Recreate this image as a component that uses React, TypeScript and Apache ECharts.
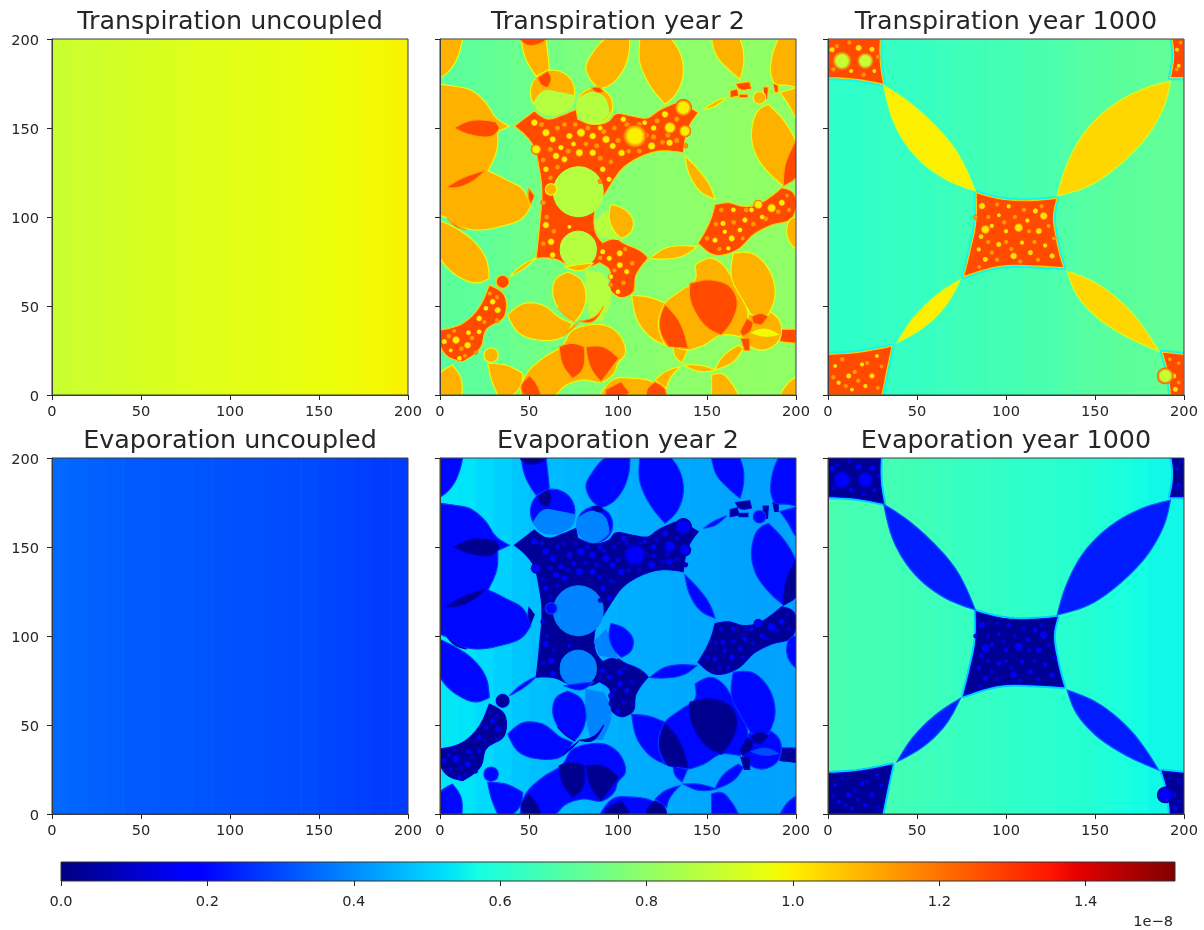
import React, { useEffect, useRef } from "react";
import * as echarts from "echarts";

// ---------- values (data units 0..200, colour values in 1e-8) ----------
const panelTitles = [
  "Transpiration uncoupled", "Transpiration year 2", "Transpiration year 1000",
  "Evaporation uncoupled", "Evaporation year 2", "Evaporation year 1000",
];
const xTickValues = [0, 50, 100, 150, 200];
const colorbarTicks = [0, 0.2, 0.4, 0.6, 0.8, 1.0, 1.2, 1.4];
const colorbarMax = 1.522;
const colorbarBreaks = [0, 0.11, 0.125, 0.34, 0.35, 0.375, 0.5, 0.64, 0.65, 0.66, 0.89, 0.91, 1];

// background value of each 10-unit column
const stripsT0 = [0.905, 0.91, 0.915, 0.92, 0.925, 0.93, 0.935, 0.94, 0.945, 0.948, 0.95, 0.953, 0.955, 0.96, 0.965, 0.97, 0.975, 0.98, 0.985, 0.992];
const stripsT2 = [0.70, 0.705, 0.71, 0.72, 0.73, 0.74, 0.75, 0.76, 0.77, 0.775, 0.78, 0.785, 0.79, 0.79, 0.795, 0.795, 0.80, 0.80, 0.80, 0.80];
const stripsT1000 = [0.62, 0.62, 0.625, 0.63, 0.63, 0.635, 0.64, 0.645, 0.65, 0.655, 0.66, 0.665, 0.67, 0.68, 0.69, 0.695, 0.70, 0.705, 0.71, 0.71];
const stripsE0 = [0.345, 0.34, 0.335, 0.33, 0.325, 0.322, 0.32, 0.318, 0.315, 0.312, 0.31, 0.308, 0.305, 0.302, 0.30, 0.295, 0.29, 0.285, 0.28, 0.28];
const stripsE2 = [0.535, 0.53, 0.515, 0.50, 0.485, 0.475, 0.47, 0.465, 0.46, 0.455, 0.45, 0.447, 0.445, 0.442, 0.44, 0.437, 0.435, 0.432, 0.43, 0.43];
const stripsE1000 = [0.665, 0.66, 0.66, 0.655, 0.65, 0.645, 0.64, 0.635, 0.63, 0.625, 0.62, 0.615, 0.61, 0.605, 0.60, 0.59, 0.58, 0.57, 0.56, 0.56];

// level: [fill value, edge value]
const levelsT2 = { o: [1.10, 0.97], y: [1.10, 0.97], r: [1.265, 1.12], n: [1.265, 1.05], s: [1.0, 1.0], g: [1.14, 1.14], m: [1.12, 1.0], l: [0.87, 0.87], b: [0.98, 0.98] };
const levelsE2 = { o: [0.2, 0.27], y: [0.2, 0.27], r: [0.02, 0.1], n: [0.03, 0.12], s: [0.18, 0.18], g: [0.12, 0.12], m: [0.2, 0.2], l: [0.385, 0.385], b: [0.3, 0.3] };
const levelsT1000 = { o: [1.04, 0.92], y: [1.0, 0.9], n: [1.265, 1.05], s: [1.02, 1.02], g: [1.14, 1.14], m: [0.9, 0.9] };
const levelsE1000 = { o: [0.23, 0.33], y: [0.23, 0.33], n: [0.03, 0.12], s: [0.18, 0.18], g: [0.12, 0.12], m: [0.17, 0.17] };

// Year 2 map
const y2Noise = [
  [[41.8,151],[53,159.6],[61,155],[68,157],[76.4,160.5],[77.4,155],[85.8,152],[95,154],[98.3,157.7],[107.7,156.7],[117,155.8],[122.6,159.6],[128.3,162.4],[133.9,164.2],[140.4,161.4],[145.1,158.6],[140.4,152],[136.7,136.1],[122.6,137],[111.4,133.3],[102,126.8],[97,120],[92,112],[88,106],[86.5,97],[88,90],[91.4,85.6],[99.8,87.4],[102.6,85.6],[114,80],[117,77],[110,67],[108.3,57.5],[101.7,54.7],[96,58.4],[95,70.6],[89.5,74.3],[85.8,72.5],[70,74],[66,76],[54,76.8],[55.8,93.6],[57,119],[55.8,126.8],[52,140.8],[48.3,145.5]],
  [[154.5,107],[162,108],[170,106],[177,106.5],[186.3,111.8],[192,116.5],[198.5,113.7],[200,105],[197.6,99.2],[186.3,95.5],[177,90.8],[166.7,81.4],[154.5,78.6],[145,85.2],[152.6,100]],
  [[0,36.5],[12.7,40.2],[20.2,46.8],[27.7,61.8],[36.1,56.1],[36.1,44],[25.8,36.5],[23,27],[12.7,18.7],[3.4,22.4],[0,28]],
  [[166,175],[174,176],[175,172],[168,172]],
  [[163,171],[167,172],[168,168],[163,167]],
  [[168,169],[173,169],[173,167],[168,167]],
  [[181.5,173],[184.5,173],[184,166],[182,166]],
  [[187,175],[190,175],[190,170],[188,170]],
  [[191,37],[200,37],[200,29],[191,30]],
];
const y2NoiseCircles = [[35.2,63.6,3.6]];
const y2LimeCircles = [[77.7,114.2,14],[77.7,81.8,10.2]];
const y2Limes = [
  [[86.7,96.8],[93.3,103.4],[99.8,87.4],[89.5,89.3]],
  [[82,70],[92,68],[96,57],[91,42],[85,42],[83,50]],
];
const y2OrangeCircles = [[63.3,170,12.5],[87,162.5,10],[180.7,36.5,11.2],[179.5,167,3.5],[28.7,22.4,4],[62.4,115.5,3.2]];
const y2Oranges = [
  [[0,200],[12.7,200],[11,193],[8,186],[4,181],[0,178]],
  [[0,174.5],[8,173.5],[16.5,171.7],[25.8,164.2],[31.5,155.8],[39,151],[32.4,148],[32,138],[27,126],[37,121],[46.5,115.5],[51,106],[47,100],[33.3,94.5],[20.2,92.7],[9,95.5],[4.3,99.2],[0,101]],
  [[0,98],[9,93.6],[18.4,87],[25.8,76.8],[27.7,65.5],[21.2,63],[9,67.4],[0,77]],
  [[45.5,200],[48.3,188.6],[54,179.2],[61.4,183],[60.5,192.3],[59.5,200]],
  [[93,200],[106.7,200],[105.8,190.5],[102,181],[96,174.5],[90,172],[84,178],[82,184],[86,192.5]],
  [[112.3,200],[112.3,186.7],[117,175.5],[126.4,163.3],[133,169.9],[136.7,181],[134.8,192.3],[130,200]],
  [[152.6,200],[155.4,190.5],[162,183],[168.5,177.4],[170.4,184.8],[170.4,193.3],[168.5,200]],
  [[190,200],[186.5,190],[186.5,178],[188,175],[195,174],[200,173],[200,200]],
  [[191,169.9],[195.7,163.3],[199.4,156.7],[200,156],[200,172.5]],
  [[148,160.5],[155,165],[161,167.5],[154,162]],
  [[180,161],[184.5,163.3],[194,153],[200,142],[200,122],[193,117.4],[184.5,125],[177,136],[175,147.4]],
  [[137.6,134.3],[145,126.8],[151.7,117.4],[154.5,110],[147,113.7],[140.4,123]],
  [[96,107],[104,104],[108.6,97.7],[107.5,92],[102,88],[98,92],[95,100]],
  [[38,44.9],[47.4,51.5],[57.7,50.5],[68,43],[74.5,40.2],[69,32.7],[55.8,30.9],[44.6,34.6]],
  [[39,66.5],[47,71],[54,77],[47,73.5]],
  [[63.3,58],[65,65],[71.7,69],[79,65],[82,55],[80,47],[75.5,41],[67,48]],
  [[48,11],[57.7,20.6],[69,28],[74,36],[82,39],[95,38.4],[102,32],[104,23],[100,18],[98,12.5],[91.4,7.5],[80,8.4],[70,5],[65,0],[45,0]],
  [[90,0],[98,9],[108,9.5],[119,7.5],[127,1],[127,0]],
  [[0,12],[7,16.8],[11.8,9.3],[12.3,0],[0,0]],
  [[26.8,17.8],[37,16.8],[46.5,12.1],[45.5,5.6],[40.8,0],[32.4,0],[28.7,9.3]],
  [[107.7,56],[117,55],[126.4,51.5],[123,39],[126.4,28],[119,32],[111.4,41]],
  [[126.4,51.5],[135.8,59],[143.3,64.6],[143.3,73],[152.6,76.8],[160,72],[163,67.4],[172.3,48.7],[173,43],[168.5,32.7],[158,33.7],[148,28],[138.6,25.2],[126.4,28],[122.6,39.3]],
  [[164.8,79.6],[175.1,79.6],[185.4,69.3],[188.2,56.1],[184.5,44.9],[175,45],[169.5,54.3],[163.9,65.5]],
  [[154.5,14],[158,20.6],[167.6,28],[170.4,26.2],[165.7,19.6]],
  [[131,27],[139,25],[136,18],[132,22]],
  [[136.7,16.8],[145.1,16.8],[155.4,14],[145,13.4]],
  [[120.8,8.4],[126.4,13],[134.8,15.9],[128.3,7.4],[127.3,3.7]],
  [[152.6,11.2],[158,12.1],[163.9,6.5],[167.6,0],[152.6,0]],
  [[191,0],[197.6,8.5],[200,10],[200,0]],
  [[195,95],[197,99],[200,100],[200,82],[197,85]],
  [[118,76.7],[126.4,82.4],[135.8,83.9],[144.2,83.3],[137.6,78.6],[126.4,76.4]],
  [[70,72],[80,73.5],[86,74],[80,70]],
];
const y2LimesOnTop = [
  [[52.5,164],[58.6,170.8],[67,169.9],[76,168],[74,162],[68,158.5],[63,157.3],[57,158.5]],
  [[77.5,166],[85.8,170],[91.4,168],[95,158],[92,155],[87,152.5],[80,155],[77,160]],
];
const y2Bands = [[[175,35],[182.6,37],[190,34],[182.6,33]]];
const y2Reds = [
  [[8,150],[16.5,154],[31.5,153.4],[33.3,150],[31.5,147],[16.5,146.4]],
  [[3.4,116.5],[10.9,121],[25.8,126.4],[18.4,120.2],[9,116.5]],
  [[4,99.5],[10,95],[15,92.7],[9,94.5]],
  [[45,200],[60,200],[55,197],[48,197]],
  [[54.9,178.3],[60.5,182],[62.4,178.3],[60.5,172.7],[56.7,174.5]],
  [[85,172.5],[90,172.5],[92,170],[87,170.5]],
  [[192.9,117.4],[193.8,128.7],[200,143],[200,122]],
  [[50,116],[53,112],[51,107],[49.5,112]],
  [[66,49],[71,44],[76,41],[70,45]],
  [[69,33],[74,37],[78,41],[73,37]],
  [[78,41.5],[85,41],[92,50],[87,44]],
  [[67,27.1],[74.5,29],[81,27.1],[79.2,13],[74.5,9.3],[69,16.8]],
  [[82,27.1],[91.4,27.1],[100.4,20.6],[90.5,7.4],[84.8,15]],
  [[50.2,11],[45.5,3.7],[47,0],[56.8,0],[54,6.5]],
  [[93,3],[101.7,7.5],[106.7,1],[104,0],[93,0]],
  [[116,1.8],[120.8,7.4],[127,1.8],[127,0],[116,0]],
  [[140.4,62.7],[152.6,64.6],[163,60.8],[166.7,54.3],[163.9,41.2],[158,33.7],[150.7,37.4],[143.3,46.8],[140.4,54.3]],
  [[126.4,51],[133.9,42.1],[139.5,26.2],[128.3,27.1],[123.6,36.5],[123.6,43]],
  [[175,44],[180.7,45.8],[184.5,44],[180.7,39.3],[176,40.2]],
  [[168.5,35.5],[172.3,43],[176,41],[174,35.5],[170,33]],
  [[169,31.8],[174,32],[174,25],[171,25]],
];
const y2Spots = [
  [53,153,1.6],[59.5,147.4,1.8],[54,138,2.2],[63.3,143.6,1.5],[72.7,145.5,1.5],[79.2,147.4,2],[85.8,145.5,1.6],[93.3,143.6,1.8],[97,139.9,1.5],
  [65.2,134.3,1.6],[78.3,136.1,1.8],[69.9,132.4,1.5],[59.5,126.8,1.4],[85.8,136.1,1.6],[91.4,126.8,1.4],[95,121.2,1.3],[75,141,1.2],[68,139,1.3],[90,150,1.2],
  [109.5,145.5,5],[129.2,150.2,2.6],[137.6,148.3,2.6],[126.4,157.7,1.6],[136.7,161.4,3.6],[118.9,139.9,1.8],[103,154.9,1.4],[129,141.7,1.6],[120,150,1.4],[102,136,1.6],[115,153,1.2],
  [62.4,86.1,1.6],[59.5,95.5,1.6],[63.3,78.6,1.4],[72.7,94.5,1],[95.1,76.8,1.3],[91.4,80.5,1.3],[101,79.6,1.5],[101,73,1.5],[104.9,69.3,1.3],[100,58,1.2],[96,66.5,1.2],
  [154.5,87,1.3],[159,96.4,1.3],[163.9,88,1.5],[171.3,98.3,1.3],[162,82.4,1.1],[160,91.7,1.1],[168.5,92.7,1.2],[178.8,107,2],[186.3,105,2],[192,108,1.5],[175,104,1.2],[164.8,104,1.2],[181,100,1.2],
  [2.4,30,1.3],[9,30.9,1.8],[15.5,28,1.6],[22,35.5,1.2],[22,43,1.4],[29.6,52.4,1.4],[25.8,48.7,1.2],[10.9,20.6,1.2],[32.4,47.7,1.5],[6,25,1],[16,35,1.2],
];
const y2SpotsOrange = [
  [57,152,1.3],[66,150,1.3],[70,152,1.2],[76,152,1.2],[83,150,1.3],[92,148,1.3],[98,150,1.2],[105,152,1.3],[112,152,1.3],[122,154,1.3],[128,146,1.3],[120,145,1.3],[100,143,1.3],[88,140,1.3],[82,141,1.2],[72,137,1.3],[62,138,1.3],[58,132,1.2],[66,128,1.2],[62,122,1.2],[90,133,1.3],[96,131,1.2],[106,137,1.2],[112,137,1.2],[116,146,1.2],[125,142,1.2],[133,143,1.3],[138,140,1.1],[133,155,1.3],[90,120,1],[58,108,1.2],[60,100,1.2],[64,92,1.2],[58,85,1.2],[90,77,1.1],[98,70,1.1],[103,63,1.2],[108,74,1.2],[96,62,1],[104,82,1.1],
  [150,88,1.2],[155,96,1.2],[158,104,1.2],[165,97,1.2],[170,88,1.1],[176,96,1.2],[183,99,1.2],[190,103,1.2],[172,104,1.2],[157,82,1.1],[195,112,1],[196,104,1.1],
  [5,33,1.2],[12,26,1.2],[18,32,1.2],[25,41,1.1],[28,57,1.1],[32,55,1.1],[20,24,1],[8,36,1],[14,22,1],[32,42,1.1],
];

// Year 1000 map
const y1000Noise = [
  [[83.2,113.7],[97.8,110],[120.2,109.6],[128.7,110.5],[126.8,102.4],[128.7,85.6],[132.4,71.5],[116.5,72.5],[97.8,72.5],[76.2,66.5],[80,81.8],[82.8,95]],
  [[0,200],[29.4,200],[29.4,186.7],[31.3,174.5],[15.4,177.4],[0,178.3]],
  [[193.3,200],[200,200],[200,178.3],[192.4,178.3],[194.2,190.5]],
  [[0,22.8],[15.4,23.8],[36,27.5],[33.2,14.4],[30.3,0],[0,0]],
  [[187.7,24.1],[200,22.8],[200,0],[192.4,0],[190.5,14.4]],
];
const y1000Lenses = [
  [[192.4,176.4],[176.4,171.7],[155.8,159.6],[143,146],[134,129],[128.7,111.8],[146.5,117.4],[165.2,130.5],[182,149.3],[189.5,164.2]],
  [[134.3,69.7],[150.2,63.1],[169,48.1],[185.8,24.7],[165.2,34.1],[150.2,44.4],[139,57.5]],
];
const y1000YellowLenses = [
  [[31.3,174],[43.5,166.1],[56.6,154.9],[71.5,138],[82.8,114.6],[66,121.2],[49,134.3],[37.8,151.1]],
  [[74.4,65],[60.3,55.6],[47.2,42.5],[38.8,29.4],[54.7,38.7],[66,50]],
];
const y1000Spots = [
  [86.5,106.2,1.6],[88.4,93,2],[86,89,1.2],[107.1,94,2],[118.4,92.1,1.5],[121.2,100.6,1.8],[116.5,103.4,1.3],[104.3,78.1,1.6],[113.7,80,1.3],[95.9,84.6,1.3],
  [88.4,76.2,1.3],[125.9,78.1,1.3],[101.5,106,1.1],[109,85.6,1.1],[92,95,1.1],[84.7,81.8,1.1],[100,92,1.1],[112,98,1.1],[96,101,1],[122,84,1.1],
  [17.2,195,1.5],[24.7,194.2,1.3],[2.3,194,1.3],[13,182,1],[26,182,1],
  [11.6,10.7,1.3],[24.7,10.7,1.3],[19.1,17.2,1.1],[6,6.9,1.1],[27.5,21.9,1],[4,16.3,1],[21,5,1.1],[13.5,3,1],[195.2,3.2,1.3],[194.2,10.7,1.3],
  [197,185,1],[196,194,1],
];
const y1000SpotsOrange = [
  [90,100,1.1],[95,107,1.1],[105,100,1.1],[110,104,1.1],[120,106,1.1],[124,95,1.1],[113,92,1.1],[100,86,1.1],[90,86,1.1],[85,72,1],[95,76,1.1],[108,75,1.1],[118,76,1.1],[127,88,1],[83,100,1],[103,82,1.1],[99,97,1.1],[116,86,1.1],[92,80,1.1],
  [5,196,1.1],[12,198,1.1],[20,180,1.1],[28,190,1],[3,183,1.1],
  [8,20,1.1],[15,13,1.1],[22,18,1.1],[30,16,1],[10,5,1.1],[17,8,1.1],[28,4,1],[3,10,1.1],
  [197,18,1],[192,20,1],[197,7,1],[196,183,1],[198,198,1],
];
const y1000Lime = [[7.9,187.7,4],[21,187.7,3.5],[189.5,10.7,3.5]];

// ---------- jet colour map ----------
const jetR = [[0,0],[0.35,0],[0.66,1],[0.89,1],[1,0.5]];
const jetG = [[0,0],[0.125,0],[0.375,1],[0.64,1],[0.91,0],[1,0]];
const jetB = [[0,0.5],[0.11,1],[0.34,1],[0.65,0],[1,0]];
function ramp(table: number[][], t: number) {
  for (let i = 1; i < table.length; i++) {
    if (t <= table[i][0]) {
      const [a, av] = table[i - 1];
      const [b, bv] = table[i];
      return av + ((t - a) / (b - a)) * (bv - av);
    }
  }
  return table[table.length - 1][1];
}
function jet(value: number) {
  const t = Math.min(1, Math.max(0, value / colorbarMax));
  const c = [jetR, jetG, jetB].map((tb) => Math.round(ramp(tb, t) * 255));
  return `rgb(${c[0]},${c[1]},${c[2]})`;
}

// Rounds an outline between its sharp corners, keeping the lens tips pointed.
function rounded(pts: number[][]) {
  const n = pts.length;
  const at = (i: number) => pts[(i + n) % n];
  const dist = (a: number[], b: number[]) => Math.max(1e-6, Math.hypot(b[0] - a[0], b[1] - a[1]));
  const corner = pts.map((_p, i) => {
    const a = at(i - 1), b = at(i), c = at(i + 1);
    const u = Math.atan2(b[1] - a[1], b[0] - a[0]);
    const v = Math.atan2(c[1] - b[1], c[0] - b[0]);
    let d = Math.abs(u - v);
    if (d > Math.PI) d = 2 * Math.PI - d;
    return d > 1.0;
  });
  // unit-length tangents at the smooth vertices, weighted by the neighbouring chord lengths
  const tan = pts.map((_p, i) => {
    const a = at(i - 1), b = at(i), c = at(i + 1);
    const d0 = dist(a, b), d1 = dist(b, c);
    return [0, 1].map((k) => (((b[k] - a[k]) / d0) * d1 + ((c[k] - b[k]) / d1) * d0) / (d0 + d1));
  });
  const out: number[][] = [];
  for (let i = 0; i < n; i++) {
    const j = (i + 1) % n;
    const p1 = pts[i], p2 = pts[j];
    const d = dist(p1, p2);
    const chord = [(p2[0] - p1[0]) / d, (p2[1] - p1[1]) / d];
    const m1 = corner[i]
      ? corner[j] ? chord : [0, 1].map((k) => 1.5 * chord[k] - 0.5 * tan[j][k])
      : tan[i];
    const m2 = corner[j]
      ? corner[i] ? chord : [0, 1].map((k) => 1.5 * chord[k] - 0.5 * tan[i][k])
      : tan[j];
    for (let s = 0; s < 6; s++) {
      const t = s / 6, t2 = t * t, t3 = t2 * t;
      out.push([0, 1].map((k) =>
        (2 * t3 - 3 * t2 + 1) * p1[k] + (t3 - 2 * t2 + t) * d * m1[k] + (-2 * t3 + 3 * t2) * p2[k] + (t3 - t2) * d * m2[k]));
    }
  }
  return out;
}

// ---------- zones ----------
type Zone = { k: string; pts?: number[][]; c?: number[]; soft?: boolean };
const polys = (k: string, list: number[][][]): Zone[] => list.map((pts) => ({ k, pts }));
const circles = (k: string, list: number[][]): Zone[] => list.map((c) => ({ k, c }));
const softs = (k: string, list: number[][]): Zone[] => list.map((c) => ({ k, c, soft: true }));

const zonesYear2: Zone[] = [
  ...polys("n", y2Noise),
  ...circles("n", y2NoiseCircles),
  ...circles("l", y2LimeCircles),
  ...polys("l", y2Limes),
  ...circles("o", y2OrangeCircles),
  ...polys("o", y2Oranges),
  ...polys("l", y2LimesOnTop),
  ...polys("b", y2Bands),
  ...polys("r", y2Reds),
  ...softs("g", y2SpotsOrange),
  ...softs("s", y2Spots),
];
const zonesYear1000: Zone[] = [
  ...polys("n", y1000Noise),
  ...polys("o", y1000Lenses),
  ...polys("y", y1000YellowLenses),
  ...softs("g", y1000SpotsOrange),
  ...softs("s", y1000Spots),
  ...softs("m", y1000Lime),
];

const panelLeft = [52, 440, 828];
const panelTop = [39, 458];
const panelSize = 356;

const panels: any[] = [
  { strips: stripsT0 },
  { strips: stripsT2, zones: zonesYear2, levels: levelsT2 },
  { strips: stripsT1000, zones: zonesYear1000, levels: levelsT1000, halo: 0.56 },
  { strips: stripsE0 },
  { strips: stripsE2, zones: zonesYear2, levels: levelsE2 },
  { strips: stripsE1000, zones: zonesYear1000, levels: levelsE1000, halo: 0.5 },
];

function buildOption() {
  const grid: any[] = [];
  const xAxis: any[] = [];
  const yAxis: any[] = [];
  const series: any[] = [];
  const title: any[] = [];
  const font = "DejaVu Sans";
  const ink = "#262626";
  const tickFont = 14.6;

  panels.forEach((panel, i) => {
    const left = panelLeft[i % 3];
    const top = panelTop[Math.floor(i / 3)];
    grid.push({ left, top, width: panelSize, height: panelSize, show: true, z: 5, borderColor: "#3c3c3c", borderWidth: 1, backgroundColor: "transparent" });
    title.push({
      text: panelTitles[i], left: left + panelSize / 2 - 5, top: top - 36.5, textAlign: "center",
      textStyle: { fontFamily: font, fontSize: 25.4, fontWeight: "normal", color: ink },
    });
    xAxis.push({
      type: "value", gridIndex: i, min: 0, max: 200, interval: 50, z: 6,
      axisLine: { show: true, onZero: false, lineStyle: { color: "#3c3c3c", width: 1 } },
      axisTick: { show: true, length: 5, lineStyle: { color: "#262626", width: 1 } },
      axisLabel: { fontFamily: font, fontSize: tickFont, color: ink, margin: 8, formatter: (v: number) => (xTickValues.includes(v) ? String(v) : "") },
      splitLine: { show: false },
    });
    yAxis.push({
      type: "value", gridIndex: i, min: 0, max: 200, interval: 50, z: 6,
      axisLine: { show: true, onZero: false, lineStyle: { color: "#3c3c3c", width: 1 } },
      axisTick: { show: true, length: 5, lineStyle: { color: "#262626", width: 1 } },
      axisLabel: { show: i % 3 === 0, fontFamily: font, fontSize: tickFont, color: ink, margin: 13 },
      splitLine: { show: false },
    });

    // background columns
    series.push({
      type: "custom", xAxisIndex: i, yAxisIndex: i, silent: true, clip: true, z: 2,
      data: panel.strips.map((v: number, c: number) => [c * 10, c * 10 + 10, v]),
      encode: { x: [0, 1], y: 2 },
      renderItem: (_p: any, api: any) => {
        const a = api.coord([api.value(0), 200]);
        const b = api.coord([api.value(1), 0]);
        return {
          type: "rect",
          shape: { x: a[0], y: a[1], width: b[0] - a[0] + 0.6, height: b[1] - a[1] },
          style: { fill: jet(api.value(2)) },
        };
      },
    });

    if (panel.zones) {
      const zones: Zone[] = panel.zones;
      series.push({
        type: "custom", xAxisIndex: i, yAxisIndex: i, silent: true, clip: true, z: 3,
        data: zones.map((_z, n) => [n, 0]),
        encode: { x: 0, y: 1 },
        renderItem: (params: any, api: any) => {
          const z = zones[params.dataIndex];
          const lv = panel.levels[z.k] || [0.5, 0.5];
          const style = { fill: jet(lv[0]), stroke: jet(lv[1]), lineWidth: 1.1 };
          if (z.c) {
            const p = api.coord([z.c[0], z.c[1]]);
            const r = api.size([z.c[2], 0])[0];
            if (z.soft) {
              return {
                type: "circle",
                shape: { cx: p[0], cy: p[1], r: r * 1.35 },
                style: {
                  fill: {
                    type: "radial", x: 0.5, y: 0.5, r: 0.5,
                    colorStops: [
                      { offset: 0, color: jet(lv[0]) },
                      { offset: 0.6, color: jet(lv[0]) },
                      { offset: 1, color: jet(panel.levels.n[0]) },
                    ],
                  },
                },
              };
            }
            return { type: "circle", shape: { cx: p[0], cy: p[1], r }, style };
          }
          const points = rounded((z.pts as number[][]).map((q) => api.coord(q)));
          const main = { type: "polygon", shape: { points }, style };
          if (z.k === "n" && panel.halo) {
            return {
              type: "group",
              children: [
                { type: "polygon", shape: { points }, style: { fill: "none", stroke: jet(panel.halo), lineWidth: 5, lineJoin: "round" } },
                main,
              ],
            };
          }
          return main;
        },
      });
    }
  });

  // colour bar
  grid.push({ left: 61, top: 862, width: 1114, height: 19, show: true, z: 5, borderColor: "#333", borderWidth: 1, backgroundColor: "transparent" });
  xAxis.push({
    type: "value", gridIndex: 6, min: 0, max: colorbarMax, z: 6,
    axisLine: { show: false },
    axisTick: { show: true, length: 5, customValues: colorbarTicks, lineStyle: { color: "#262626", width: 1 } },
    axisLabel: { fontFamily: font, fontSize: tickFont, color: ink, margin: 12, customValues: colorbarTicks, formatter: (v: number) => v.toFixed(1) },
    splitLine: { show: false },
  });
  yAxis.push({ type: "value", gridIndex: 6, min: 0, max: 1, show: false });
  series.push({
    type: "custom", xAxisIndex: 6, yAxisIndex: 6, silent: true, z: 2,
    data: [[0, colorbarMax]],
    encode: { x: [0, 1] },
    renderItem: (_p: any, api: any) => {
      const a = api.coord([0, 1]);
      const b = api.coord([colorbarMax, 0]);
      return {
        type: "rect",
        shape: { x: a[0], y: a[1], width: b[0] - a[0], height: b[1] - a[1] },
        style: {
          fill: {
            type: "linear", x: 0, y: 0, x2: 1, y2: 0,
            colorStops: colorbarBreaks.map((t) => ({ offset: t, color: jet(t * colorbarMax) })),
          },
        },
      };
    },
  });

  return {
    animation: false,
    backgroundColor: "#ffffff",
    title,
    grid,
    xAxis,
    yAxis,
    series,
    graphic: [
      { type: "text", right: 31, top: 913, style: { text: "1e\u22128", fontFamily: font, fontSize: tickFont, fill: ink } },
    ],
  };
}

export default function App() {
  const ref = useRef<HTMLDivElement>(null);
  useEffect(() => {
    document.body.style.margin = "0";
    const chart = echarts.init(ref.current as HTMLDivElement, undefined, { renderer: "svg" });
    chart.setOption(buildOption() as any);
    return () => chart.dispose();
  }, []);
  return <div ref={ref} style={{ width: 1204, height: 930, filter: "blur(0.5px)" }} />;
}
